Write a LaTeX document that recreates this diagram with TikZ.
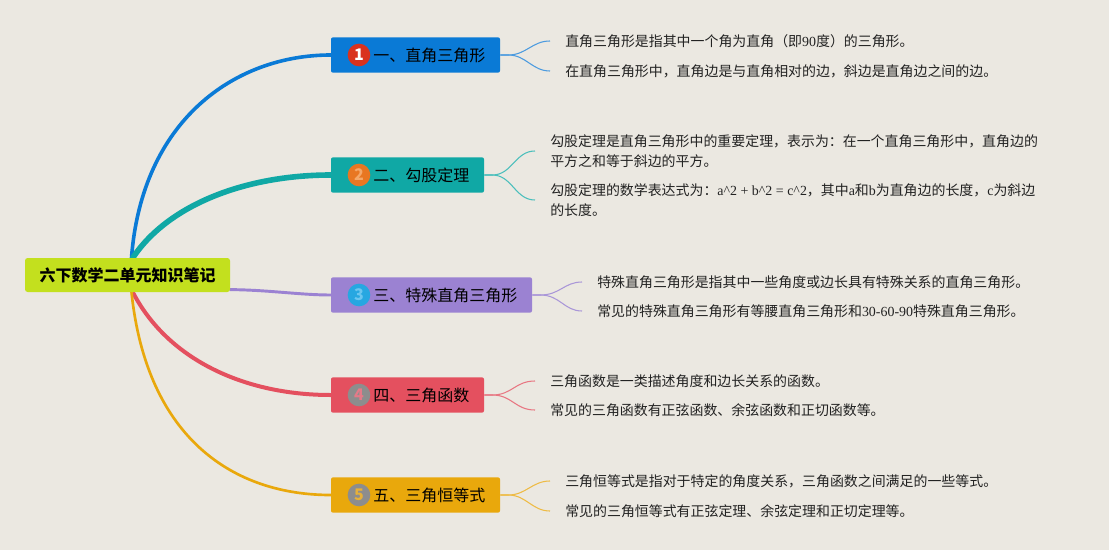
\documentclass[tikz,border=0pt]{standalone}
\usepackage{fontspec}
\setmainfont{Noto Sans CJK SC}
\newfontfamily\lat{Liberation Serif}
\pgfdeclarelayer{bottom}
\pgfdeclarelayer{wires}
\pgfsetlayers{bottom,wires,main}
\definecolor{bgc}{HTML}{EBE8E1}
\definecolor{rootc}{HTML}{C3E01E}
\definecolor{cblue}{HTML}{0A7AD6}
\definecolor{cteal}{HTML}{10A8A5}
\definecolor{cpurple}{HTML}{9B82D2}
\definecolor{cred}{HTML}{E4505F}
\definecolor{cgold}{HTML}{E9A80C}
\definecolor{lblue}{HTML}{4C9BDF}
\definecolor{lteal}{HTML}{4BBFBC}
\definecolor{lpurple}{HTML}{A996D8}
\definecolor{lred}{HTML}{E87783}
\definecolor{lgold}{HTML}{EEBB45}
\definecolor{circA}{HTML}{D9321E}
\definecolor{circB}{HTML}{E87722}
\definecolor{circC}{HTML}{27A7E1}
\definecolor{circD}{HTML}{8D8D8D}
\definecolor{digB}{HTML}{F5A868}
\definecolor{digC}{HTML}{6CC6F0}
\definecolor{digD}{HTML}{E57A88}
\definecolor{digE}{HTML}{E6B03A}
\definecolor{txt}{HTML}{222222}
\begin{document}
\begin{tikzpicture}[x=0.75pt,y=-0.75pt,
  rootbox/.style={fill=rootc,rounded corners=2pt,minimum width=153.75pt,minimum height=25.5pt,inner sep=0pt,font=\fontsize{12}{14}\selectfont\bfseries,text=black},
  branchbox/.style={fill=#1,rounded corners=1.5pt,minimum height=26.5pt,inner sep=0pt},
  numcirc/.style={circle,fill=#1,minimum size=17pt,inner sep=0pt,font=\fontsize{12}{12}\selectfont\bfseries},
  btext/.style={anchor=west,inner sep=0pt,font=\fontsize{12}{14}\selectfont,text=black},
  leaf/.style={anchor=west,inner xsep=11.25pt,inner ysep=0pt,align=left,text=txt,font=\fontsize{10.45}{15}\selectfont},
  mainline/.style={line width=#1,line cap=round},
  leafline/.style={draw=#1,line width=0.8pt}
]
\begin{pgfonlayer}{bottom}
\fill[bgc] (0,0) rectangle (1109,550);
\end{pgfonlayer}
\useasboundingbox (0,0) rectangle (1109,550);

% root
\node[rootbox] (root) at (127.5,275) {六下数学二单元知识笔记};

% branches
\node[branchbox=cblue,minimum width=126.75pt] (b1) at (415.5,55) {};
\node[numcirc=circA,text=white] (n1) at (359,55) {1};
\node[btext] (t1) at (373,55) {一、直角三角形};

\node[branchbox=cteal,minimum width=114.75pt] (b2) at (407.5,175) {};
\node[numcirc=circB,text=digB] (n2) at (359,175) {2};
\node[btext] (t2) at (373,175) {二、勾股定理};

\node[branchbox=cpurple,minimum width=150.75pt] (b3) at (431.5,295) {};
\node[numcirc=circC,text=digC] (n3) at (359,295) {3};
\node[btext] (t3) at (373,295) {三、特殊直角三角形};

\node[branchbox=cred,minimum width=114.75pt] (b4) at (407.5,395) {};
\node[numcirc=circD,text=digD] (n4) at (359,395) {4};
\node[btext] (t4) at (373,395) {四、三角函数};

\node[branchbox=cgold,minimum width=126.75pt] (b5) at (415.5,495) {};
\node[numcirc=circD,text=digE] (n5) at (359,495) {5};
\node[btext] (t5) at (373,495) {五、三角恒等式};

% leaves
\node[leaf] (l1a) at (550,41) {直角三角形是指其中一个角为直角（即{\lat 90}度）的三角形。};
\node[leaf] (l1b) at (550,71) {在直角三角形中，直角边是与直角相对的边，斜边是直角边之间的边。};

\node[leaf] (l2a) at (535,151) {勾股定理是直角三角形中的重要定理，表示为：在一个直角三角形中，直角边的\\平方之和等于斜边的平方。};
\node[leaf] (l2b) at (535,200) {勾股定理的数学表达式为：{\lat a\textasciicircum2 + b\textasciicircum2 = c\textasciicircum2}，其中{\lat a}和{\lat b}为直角边的长度，{\lat c}为斜边\\的长度。};

\node[leaf] (l3a) at (582,282) {特殊直角三角形是指其中一些角度或边长具有特殊关系的直角三角形。};
\node[leaf] (l3b) at (582,311) {常见的特殊直角三角形有等腰直角三角形和{\lat 30-60-90}特殊直角三角形。};

\node[leaf] (l4a) at (535,381) {三角函数是一类描述角度和边长关系的函数。};
\node[leaf] (l4b) at (535,410) {常见的三角函数有正弦函数、余弦函数和正切函数等。};

\node[leaf] (l5a) at (550,481) {三角恒等式是指对于特定的角度关系，三角函数之间满足的一些等式。};
\node[leaf] (l5b) at (550,511) {常见的三角恒等式有正弦定理、余弦定理和正切定理等。};

\begin{pgfonlayer}{wires}
  \draw[mainline=2.7pt,cblue] ([xshift=3pt]root.north) .. controls (142,120) and (235,55) .. (b1.west);
  \draw[mainline=4.2pt,cteal] ([xshift=4pt]root.north) .. controls (168,205) and (245,175) .. (b2.west);
  \draw[mainline=2.2pt,cpurple] ([yshift=2pt]root.south east) .. controls (270,290) and (300,295) .. (b3.west);
  \draw[mainline=3pt,cred] ([xshift=4pt]root.south) .. controls (168,360) and (245,395) .. (b4.west);
  \draw[mainline=2pt,cgold] ([xshift=3pt]root.south) .. controls (147,440) and (235,495) .. (b5.west);

  \draw[leafline=lblue] (b1.east) -- +(8,0) .. controls +(18,0) and +(-18,0) .. (l1a.west);
  \draw[leafline=lblue] (b1.east) -- +(8,0) .. controls +(18,0) and +(-18,0) .. (l1b.west);
  \draw[leafline=lteal] (b2.east) -- +(8,0) .. controls +(20,0) and +(-20,0) .. (l2a.west);
  \draw[leafline=lteal] (b2.east) -- +(8,0) .. controls +(20,0) and +(-20,0) .. (l2b.west);
  \draw[leafline=lpurple] (b3.east) -- +(8,0) .. controls +(20,0) and +(-18,0) .. (l3a.west);
  \draw[leafline=lpurple] (b3.east) -- +(8,0) .. controls +(20,0) and +(-18,0) .. (l3b.west);
  \draw[leafline=lred] (b4.east) -- +(8,0) .. controls +(20,0) and +(-20,0) .. (l4a.west);
  \draw[leafline=lred] (b4.east) -- +(8,0) .. controls +(20,0) and +(-20,0) .. (l4b.west);
  \draw[leafline=lgold] (b5.east) -- +(8,0) .. controls +(18,0) and +(-18,0) .. (l5a.west);
  \draw[leafline=lgold] (b5.east) -- +(8,0) .. controls +(18,0) and +(-18,0) .. (l5b.west);
\end{pgfonlayer}
\end{tikzpicture}
\end{document}
